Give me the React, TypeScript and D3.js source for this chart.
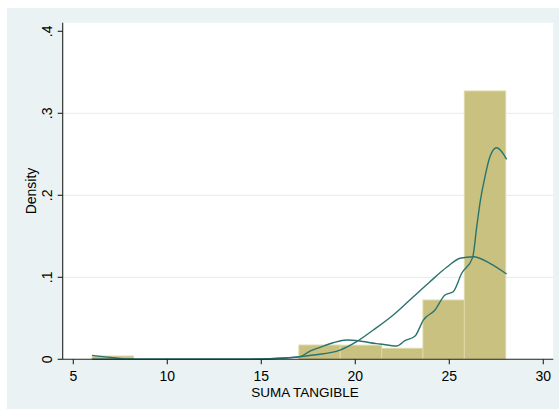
import React from "react";
import * as d3 from "d3";

// Histogram of SUMA TANGIBLE (density scale) with kernel density and normal overlays
const binEdges = [6.0, 8.2, 10.4, 12.6, 14.8, 17.0, 19.2, 21.4, 23.6, 25.8, 28.0];
const binDensity = [0.004, 0, 0, 0, 0, 0.0174, 0.0172, 0.0134, 0.0723, 0.3272];

const kernelX = [6.0, 7.0, 7.9, 9.0, 12.0, 15.0, 16.0, 17.06, 17.59, 18.12, 18.83, 19.54, 20.16, 20.78, 21.31, 22.2, 22.64, 23.18, 23.62, 24.24, 24.77, 25.21, 25.66, 26.24, 26.46, 26.63, 26.9, 27.16, 27.52, 27.79, 28.05];
const kernelY = [0.0048, 0.0022, 0.0003, 0, 0, 0.0002, 0.0012, 0.0032, 0.0101, 0.0146, 0.0202, 0.0235, 0.0227, 0.0202, 0.0187, 0.0162, 0.0227, 0.0284, 0.0479, 0.0601, 0.0784, 0.0824, 0.1049, 0.1240, 0.1617, 0.1902, 0.2227, 0.2471, 0.258, 0.2532, 0.2439];

const normalX = [6.0, 10.0, 14.0, 15.0, 15.99, 17.77, 19.19, 20.07, 20.96, 22.02, 23.09, 23.97, 24.86, 25.57, 26.28, 27.16, 28.05];
const normalY = [0, 0, 0.0002, 0.0004, 0.0012, 0.0052, 0.0113, 0.0215, 0.0357, 0.054, 0.0763, 0.0946, 0.1122, 0.1232, 0.1251, 0.1171, 0.104];

const xTicks = [5, 10, 15, 20, 25, 30];
const yTicks = [0, 0.1, 0.2, 0.3, 0.4];
const yTickLabels = ["0", ".1", ".2", ".3", ".4"];
const yGrid = [0.1, 0.2, 0.3];

const W = 559;
const H = 409;
const plot = { left: 62.7, right: 553.3, top: 22.7, bottom: 359.3 };

const x = d3.scaleLinear().domain([5, 30]).range([73.3, 543.3]);
const y = d3.scaleLinear().domain([0, 0.4]).range([plot.bottom, plot.bottom - 4 * 82]);

const font = "'Liberation Sans', Arial, Helvetica, sans-serif";
const lineColor = "#2B736E";

export default function App() {
  const line = d3
    .line<[number, number]>()
    .x((d) => x(d[0]))
    .y((d) => y(d[1]))
    .curve(d3.curveMonotoneX);
  const kernelPath = line(kernelX.map((v, i) => [v, kernelY[i]] as [number, number])) || "";
  const normalPath = line(normalX.map((v, i) => [v, normalY[i]] as [number, number])) || "";

  const bars = binDensity.map((dens, i) => ({ x0: binEdges[i], x1: binEdges[i + 1], dens }));

  return (
    <svg
      width={W}
      height={H}
      style={{ position: "absolute", left: 0, top: 0, display: "block", background: "#fff" }}
      fontFamily={font}
    >
      <rect x={7} y={8} width={W - 7} height={H - 8} fill="#EAF2F3" />
      <rect
        x={plot.left}
        y={plot.top}
        width={plot.right - plot.left}
        height={plot.bottom - plot.top}
        fill="#ffffff"
      />
      {yGrid.map((v) => (
        <line
          key={v}
          x1={plot.left}
          x2={plot.right}
          y1={y(v)}
          y2={y(v)}
          stroke="#E3ECEE"
          strokeWidth={1}
        />
      ))}
      {bars
        .filter((b) => b.dens > 0)
        .map((b, i) => (
          <rect
            key={i}
            x={x(b.x0)}
            y={y(b.dens)}
            width={x(b.x1) - x(b.x0)}
            height={y(0) - y(b.dens)}
            fill="#C9C17F"
            stroke="#DDD8A6"
            strokeWidth={1}
          />
        ))}
      <path d={normalPath} fill="none" stroke={lineColor} strokeWidth={1.4} />
      <path d={kernelPath} fill="none" stroke={lineColor} strokeWidth={1.4} />

      {/* axes */}
      <line x1={plot.left} x2={plot.left} y1={plot.top} y2={plot.bottom} stroke="#222" strokeWidth={1.1} />
      <line x1={plot.left} x2={plot.right} y1={plot.bottom} y2={plot.bottom} stroke="#222" strokeWidth={1.1} />
      {xTicks.map((t) => (
        <g key={t}>
          <line x1={x(t)} x2={x(t)} y1={plot.bottom} y2={plot.bottom + 5} stroke="#222" strokeWidth={1.1} />
          <text x={x(t)} y={380.5} textAnchor="middle" fontSize={14} fill="#000">
            {t}
          </text>
        </g>
      ))}
      {yTicks.map((t, i) => (
        <g key={t}>
          <line x1={plot.left - 5} x2={plot.left} y1={y(t)} y2={y(t)} stroke="#222" strokeWidth={1.1} />
          <text
            transform={`translate(52, ${y(t)}) rotate(-90)`}
            textAnchor="middle"
            fontSize={14}
            fill="#000"
          >
            {yTickLabels[i]}
          </text>
        </g>
      ))}
      <text x={305} y={396.5} textAnchor="middle" fontSize={13.5} fill="#000">
        SUMA TANGIBLE
      </text>
      <text
        transform={`translate(36, ${(plot.top + plot.bottom) / 2}) rotate(-90)`}
        textAnchor="middle"
        fontSize={14}
        fill="#000"
      >
        Density
      </text>
    </svg>
  );
}
